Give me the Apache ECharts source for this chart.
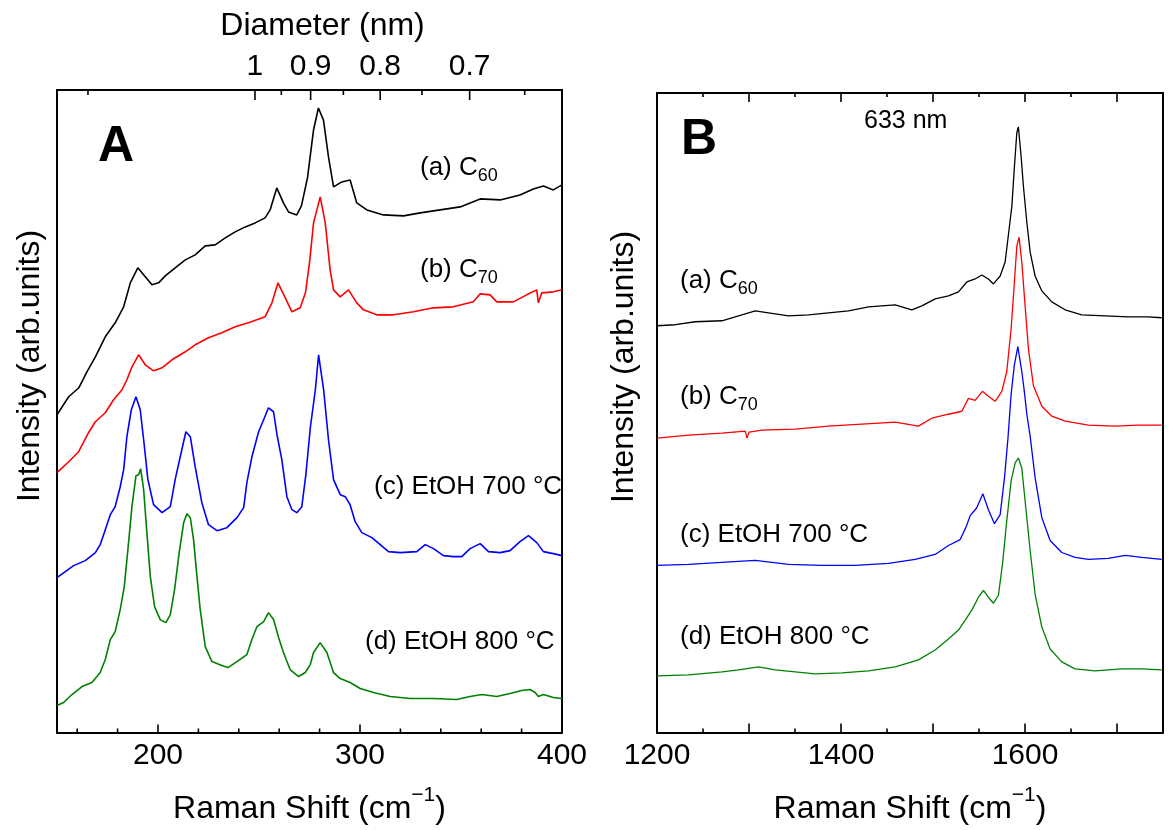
<!DOCTYPE html>
<html>
<head>
<meta charset="utf-8">
<script src="https://cdn.jsdelivr.net/npm/echarts@6/dist/echarts.min.js"></script>
<style>
  html, body { margin: 0; padding: 0; background: #fff; }
  #chart { width: 1169px; height: 830px; }
</style>
</head>
<body>
<div id="chart"></div>
<script>
// panel A: radial breathing mode region, [shift cm-1, intensity arb.]
const A_C60 = [[150,318],[155.8,336],[160.8,345],[164.8,361],[169,376],[173.9,396],[178.8,410],[183,426],[186.3,450],[190,465],[193.7,456],[197,448],[200.3,450],[203.6,457],[208.5,465],[213.5,473],[218.4,478],[223.4,487],[228.3,488],[233.3,495],[238.2,501],[243.2,506],[248.1,510],[253,515],[255.5,523],[258.8,545],[262.1,530],[264.6,521],[268.7,518],[271,527],[274,555],[277,603],[279.4,625],[281.9,613],[284.4,576],[286.9,546],[291,551],[295.1,553],[298.4,530],[303.4,523],[311.6,518],[321.5,517],[329.8,520],[339.7,523],[349.6,526],[359.5,534],[369.4,533],[379.2,538],[385.8,544],[390.8,547],[395.7,543],[400,548]];
const A_C70 = [[150,260],[155.8,271],[160.7,281],[165.6,300],[169,311],[173.9,320],[178,333],[182.2,343],[184.6,353],[187.1,366],[190.4,378],[193.7,368],[197.8,362],[202,365],[206.9,373],[213.5,381],[218.4,388],[225,395],[231.6,400],[238.2,406],[244.8,410],[253,416],[256.4,430],[259.4,450],[263,435],[266.3,421],[270.4,425],[273,440],[275,470],[277,510],[280.3,536],[282.8,510],[285.2,463],[286.9,443],[290.2,436],[294.3,443],[298.4,430],[301.7,423],[308.3,418],[316.6,418],[326.5,421],[336.4,425],[346.2,426],[356.1,431],[359.5,439],[364.4,438],[367.7,431],[375.9,431],[382.5,438],[387.5,443],[388.3,430],[390,440],[395.7,441],[400,443]];
const A_E700 = [[150,155],[154.1,161],[158.2,167],[164,172],[169,180],[171.4,188],[173.9,203],[176.4,218],[178.8,226],[181.3,246],[183,263],[184.6,296],[186.8,323],[189.1,336],[191.2,323],[192.9,293],[195,253],[197.8,228],[202,220],[206.1,226],[208.5,253],[211,276],[213.8,301],[216,296],[218.4,266],[221.7,230],[225,208],[229.2,202],[234.1,205],[239.1,215],[242.4,225],[244,250],[246.5,276],[249.8,301],[252.3,313],[254.7,325],[257.2,321],[258.9,298],[261.3,273],[263.8,236],[266.3,223],[268.7,220],[271.2,226],[273.2,258],[275.4,305],[277.9,343],[279.5,378],[282,343],[284.4,293],[286.9,253],[290.2,238],[292.7,236],[295.1,228],[297.6,211],[300.9,200],[305.9,195],[310,188],[314.1,181],[319.9,180],[328.1,181],[332.3,188],[336.4,184],[341.3,177],[346.2,176],[350.4,176],[354.5,184],[359.5,189],[363.6,181],[369.4,180],[374.3,182],[379.2,191],[383.4,197],[387.5,190],[390.8,181],[395.7,179],[400,177]];
const A_E800 = [[150,27],[153.3,30],[157.4,38],[162.4,46],[167.3,50],[171.4,60],[173.9,73],[176.4,93],[178.8,101],[181.3,123],[183.3,146],[185.1,183],[187.1,226],[189.1,257],[190.4,258],[191.4,264],[192.9,243],[194.5,200],[196.2,156],[198.3,126],[201.1,113],[203.9,110],[206.1,118],[208.2,143],[210.5,180],[212.7,210],[214.3,219],[216,215],[217.6,193],[219.3,156],[220.9,123],[223.4,86],[226.7,71],[231.6,67],[234.6,65],[239.1,71],[244,78],[246.5,93],[249,106],[252.3,111],[254.7,120],[257.2,113],[259.7,95],[262.1,80],[265.4,63],[269.6,56],[272.9,60],[275.4,68],[277,80],[280.3,90],[283.6,80],[286.9,60],[290.2,54],[295.1,50],[300.1,44],[306.7,40],[314.9,36],[324.8,34],[336.4,34],[347.9,33],[354.5,36],[360.3,38],[367.7,36],[374.3,39],[380,42],[384.2,43],[386.7,40],[388.3,36],[390.8,38],[395.7,35],[400,34]];

// panel B: G band region, 633 nm excitation
const B_C60 = [[1200,409],[1219.9,410],[1241.6,413],[1270.6,414],[1285,418],[1306.8,424],[1321.2,422],[1343,419],[1364.7,420],[1386.4,422],[1408.2,424],[1429.9,428],[1458.9,430],[1477,425],[1487.9,429],[1502.3,436],[1516.8,439],[1527.7,443],[1536.8,453],[1545.8,456],[1553.1,460],[1560.2,456],[1565.7,451],[1573,459],[1578.4,473],[1582.7,506],[1585.7,529],[1588.5,569],[1591.1,603],[1592.8,609],[1595.8,579],[1598.3,549],[1602,513],[1605.6,483],[1611,459],[1618.3,444],[1629.1,433],[1643.6,425],[1661.7,420],[1687,419],[1712.3,418],[1734,418],[1748.6,417]];
const B_C70 = [[1200,296],[1234.3,299],[1270.6,301],[1295.9,303],[1297.8,296],[1300,302],[1314,304],[1350.2,305],[1386.4,308],[1422.7,310],[1458.9,312],[1484.2,308],[1498.7,316],[1516.8,320],[1531.3,323],[1538.5,336],[1545.8,334],[1553.7,343],[1560.2,338],[1567.5,333],[1574.8,343],[1580.2,363],[1584.9,406],[1588.5,453],[1591.1,489],[1593.6,498],[1596.5,473],[1600.1,429],[1603.7,386],[1609.1,349],[1618.3,328],[1629.1,318],[1643.6,313],[1668.9,309],[1697.9,308],[1723.2,309],[1748.6,309]];
const B_E700 = [[1200,168],[1234.3,169],[1270.6,171],[1306.8,173],[1343,169],[1379.2,168],[1415.4,168],[1451.6,170],[1480.6,174],[1502.3,179],[1516.8,188],[1529.5,194],[1535.7,206],[1540.4,218],[1547.6,226],[1554.2,240],[1560.2,224],[1566.8,210],[1573,219],[1577.7,256],[1581.4,295],[1584.9,340],[1588.5,370],[1592.2,388],[1596.5,363],[1599,345],[1602,320],[1605.6,298],[1611,256],[1618.3,216],[1627.3,193],[1640,181],[1654.4,176],[1668.9,174],[1690.6,175],[1708.8,178],[1726.9,176],[1748.6,174]];
const B_E800 = [[1200,57],[1234.3,58],[1270.6,61],[1288.7,63],[1310.4,66],[1328.5,63],[1350.2,61],[1372,59],[1401,60],[1429.9,62],[1458.9,66],[1484.2,73],[1502.3,83],[1516.8,94],[1527.7,103],[1535,113],[1542.2,123],[1549.4,136],[1554.8,143],[1560.2,136],[1565.7,130],[1571.1,138],[1575.5,169],[1580.2,213],[1584.9,253],[1589.3,271],[1592.8,276],[1596.5,266],[1600.1,233],[1605.6,183],[1611,139],[1618.3,106],[1627.3,84],[1640,71],[1654.4,64],[1676.2,62],[1705.2,64],[1726.9,64],[1748.6,63]];

// tick labels and tick positions
const ticksA = [200, 300, 400];
const minorTicksA = [160, 180, 220, 240, 260, 280, 320, 340, 360, 380];
const diamMajor = [1, 0.9, 0.8, 0.7];
const diamMinor = [1.5, 0.95, 0.85, 0.75, 0.65];
const RBM_K = 248; // shift = 248 / d
const ticksB = [1200, 1400, 1600];
const majorTicksB = [1300, 1400, 1500, 1600, 1700];
const minorTicksB = [1250, 1350, 1450, 1550, 1650, 1750];
const Y_MAX = 643;

const FONT = "'Liberation Sans', Arial, sans-serif";
const chart = echarts.init(document.getElementById('chart'));

function lineSeries(data, color, xi, yi, w) {
    return {
        type: 'line', data: data, xAxisIndex: xi, yAxisIndex: yi,
        showSymbol: false, silent: true,
        lineStyle: { color: color, width: w }
    };
}

// inward tick marks drawn through the axis scale
function tickSeries(values, xi, yi, side, len) {
    return {
        type: 'custom', xAxisIndex: xi, yAxisIndex: yi, silent: true, z: 5, clip: false,
        data: values.map(v => [v, side === 'top' ? Y_MAX : 0]),
        renderItem: function (params, api) {
            const p = api.coord([api.value(0), api.value(1)]);
            const dir = side === 'top' ? 1 : -1;
            return {
                type: 'line',
                shape: { x1: p[0], y1: p[1], x2: p[0], y2: p[1] + dir * len },
                style: { stroke: '#000', lineWidth: 1.6 }
            };
        }
    };
}

function label(text, x, y, size) {
    return {
        type: 'text', x: x, y: y, silent: true,
        style: {
            text: text, fill: '#000', font: size + 'px ' + FONT,
            align: 'left', verticalAlign: 'middle',
            rich: { sub: { fontSize: 18, padding: [16, 0, 0, 0] } }
        }
    };
}

function nameStyle() {
    return {
        color: '#000', fontSize: 32, fontFamily: FONT,
        rich: { sup: { fontSize: 21, padding: [0, 0, 28, 0] } }
    };
}
function axisLine() { return { show: true, onZero: false, lineStyle: { color: '#000', width: 2 } }; }

const option = {
    backgroundColor: '#fff',
    animation: false,
    grid: [
        { left: 57, top: 90, width: 505, height: 643 },
        { left: 657, top: 93, width: 506, height: 643 }
    ],
    xAxis: [
        {   // A bottom
            gridIndex: 0, type: 'value', min: 150, max: 400, position: 'bottom',
            axisLine: axisLine(), splitLine: { show: false }, axisTick: { show: false },
            axisLabel: { customValues: ticksA, color: '#000', fontSize: 30, fontFamily: FONT, margin: 8, formatter: v => String(v) },
            name: 'Raman Shift (cm{sup|−1})', nameLocation: 'middle', nameGap: 52, nameTextStyle: nameStyle()
        },
        {   // A top: nanotube diameter
            gridIndex: 0, type: 'value', min: 150, max: 400, position: 'top',
            axisLine: axisLine(), splitLine: { show: false }, axisTick: { show: false },
            axisLabel: {
                customValues: diamMajor.map(d => RBM_K / d), color: '#000', fontSize: 30, fontFamily: FONT, margin: 8,
                formatter: v => String(Math.round(RBM_K / v * 100) / 100)
            },
            name: 'Diameter (nm)', nameLocation: 'middle', nameGap: 48,
            nameTextStyle: { color: '#000', fontSize: 32, fontFamily: FONT, padding: [0, 0, 0, 26] }
        },
        {   // B bottom
            gridIndex: 1, type: 'value', min: 1200, max: 1750, interval: 100, position: 'bottom',
            axisLine: axisLine(), splitLine: { show: false }, axisTick: { show: false },
            axisLabel: { customValues: ticksB, color: '#000', fontSize: 30, fontFamily: FONT, margin: 8, formatter: v => String(v) },
            name: 'Raman Shift (cm{sup|−1})', nameLocation: 'middle', nameGap: 52, nameTextStyle: nameStyle()
        },
        {   // B top
            gridIndex: 1, type: 'value', min: 1200, max: 1750, interval: 100, position: 'top',
            axisLine: axisLine(), splitLine: { show: false }, axisTick: { show: false },
            axisLabel: { show: false }
        }
    ],
    yAxis: [
        { gridIndex: 0, type: 'value', min: 0, max: Y_MAX, position: 'left', axisLine: axisLine(), axisTick: { show: false }, axisLabel: { show: false }, splitLine: { show: false } },
        { gridIndex: 0, type: 'value', min: 0, max: Y_MAX, position: 'right', axisLine: axisLine(), axisTick: { show: false }, axisLabel: { show: false }, splitLine: { show: false } },
        { gridIndex: 1, type: 'value', min: 0, max: Y_MAX, position: 'left', axisLine: axisLine(), axisTick: { show: false }, axisLabel: { show: false }, splitLine: { show: false } },
        { gridIndex: 1, type: 'value', min: 0, max: Y_MAX, position: 'right', axisLine: axisLine(), axisTick: { show: false }, axisLabel: { show: false }, splitLine: { show: false } }
    ],
    series: [
        lineSeries(A_C60, '#000000', 0, 0, 1.6),
        lineSeries(A_C70, '#ff0000', 0, 0, 1.6),
        lineSeries(A_E700, '#0000ff', 0, 0, 1.6),
        lineSeries(A_E800, '#008000', 0, 0, 1.6),
        lineSeries(B_C60, '#000000', 2, 2, 1.3),
        lineSeries(B_C70, '#ff0000', 2, 2, 1.3),
        lineSeries(B_E700, '#0000ff', 2, 2, 1.3),
        lineSeries(B_E800, '#008000', 2, 2, 1.3),
        tickSeries(ticksA, 0, 0, 'bottom', 8),
        tickSeries(minorTicksA, 0, 0, 'bottom', 4),
        tickSeries(diamMajor.map(d => RBM_K / d), 1, 0, 'top', 10),
        tickSeries(diamMinor.map(d => RBM_K / d), 1, 0, 'top', 5),
        tickSeries(majorTicksB, 2, 2, 'bottom', 9),
        tickSeries(minorTicksB, 2, 2, 'bottom', 4),
        tickSeries(majorTicksB, 3, 2, 'top', 9),
        tickSeries(minorTicksB, 3, 2, 'top', 4)
    ],
    graphic: [
        { type: 'text', x: 98, y: 147, silent: true, style: { text: 'A', fill: '#000', font: 'bold 50px ' + FONT, align: 'left', verticalAlign: 'middle' } },
        { type: 'text', x: 681, y: 140, silent: true, style: { text: 'B', fill: '#000', font: 'bold 50px ' + FONT, align: 'left', verticalAlign: 'middle' } },
        { type: 'text', x: 864, y: 121, silent: true, style: { text: '633 nm', fill: '#000', font: '25px ' + FONT, align: 'left', verticalAlign: 'middle' } },
        { type: 'text', x: 30, y: 366, rotation: Math.PI / 2, silent: true, style: { text: 'Intensity (arb.units)', fill: '#000', font: '32px ' + FONT, align: 'center', verticalAlign: 'middle' } },
        { type: 'text', x: 624, y: 367, rotation: Math.PI / 2, silent: true, style: { text: 'Intensity (arb.units)', fill: '#000', font: '32px ' + FONT, align: 'center', verticalAlign: 'middle' } },
        label('(a) C{sub|60}', 420, 168, 26),
        label('(b) C{sub|70}', 420, 270, 26),
        label('(c) EtOH 700 °C', 374, 487, 26),
        label('(d) EtOH 800 °C', 365, 642, 26),
        label('(a) C{sub|60}', 680, 281, 26),
        label('(b) C{sub|70}', 680, 397, 26),
        label('(c) EtOH 700 °C', 680, 535, 26),
        label('(d) EtOH 800 °C', 680, 637, 26)
    ]
};

chart.setOption(option);
</script>
</body>
</html>
